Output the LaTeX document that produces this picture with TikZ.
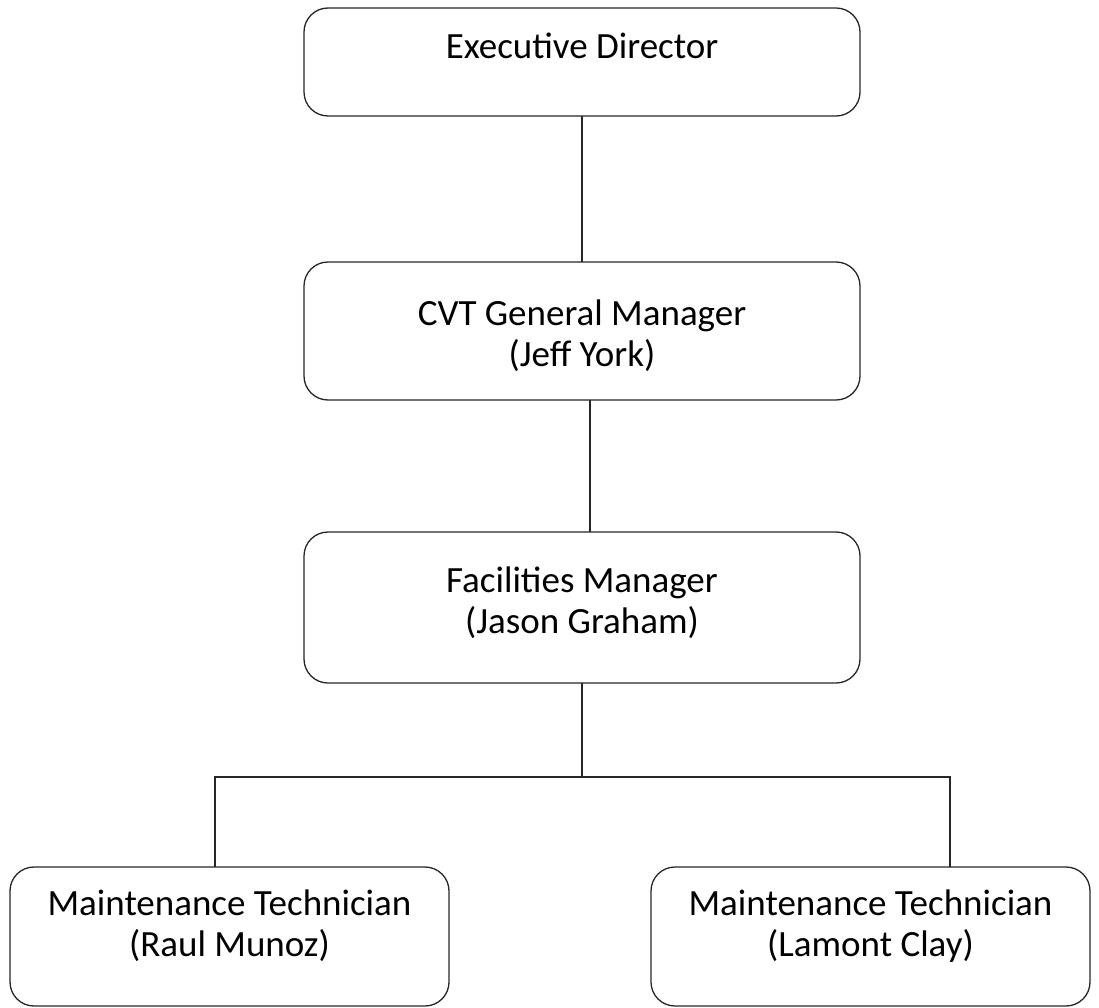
\documentclass[tikz,border=0pt]{standalone}
\usepackage{fontspec}
\setmainfont{Carlito}
\begin{document}
\begin{tikzpicture}[x=1pt,y=-1pt,
  box/.style={draw=black!85,line width=1.3pt,rounded corners=24pt,
    anchor=north west,inner sep=0pt,outer sep=0pt},
  label text/.style={align=center,inner sep=0pt,
    font=\fontsize{37}{41}\selectfont},
  wire/.style={draw=black!85,line width=1.1pt}]
\useasboundingbox (0,0) rectangle (1099,1008);
% boxes
\node[box,minimum width=556pt,minimum height=108pt] (exec) at (304,8) {};
\node[box,minimum width=556pt,minimum height=138pt] (cvt) at (304,262) {};
\node[box,minimum width=556pt,minimum height=151pt] (fac) at (304,532) {};
\node[box,minimum width=439pt,minimum height=139pt] (mt1) at (10,867) {};
\node[box,minimum width=439pt,minimum height=139pt] (mt2) at (651,867) {};
% texts
\node[label text] (execT) at (582,46) {Executive Director};
\node[label text] (cvtT) at (582,336) {CVT General Manager\\(Jeff York)};
\node[label text] (facT) at (582,603) {Facilities Manager\\(Jason Graham)};
\node[label text] (mt1T) at (229.5,926) {Maintenance Technician\\(Raul Munoz)};
\node[label text] (mt2T) at (870.5,926) {Maintenance Technician\\(Lamont Clay)};
% connectors
\coordinate (junc) at (582,777);
\draw[wire] (exec.south) -- (cvt.north);
\draw[wire] ([xshift=8pt]cvt.south) -- ([xshift=8pt]fac.north);
\draw[wire] (fac.south) -- (junc);
\draw[wire] (junc) -| ([xshift=-14.5pt]mt1.north);
\draw[wire] (junc) -| ([xshift=79.5pt]mt2.north);
\end{tikzpicture}
\end{document}
